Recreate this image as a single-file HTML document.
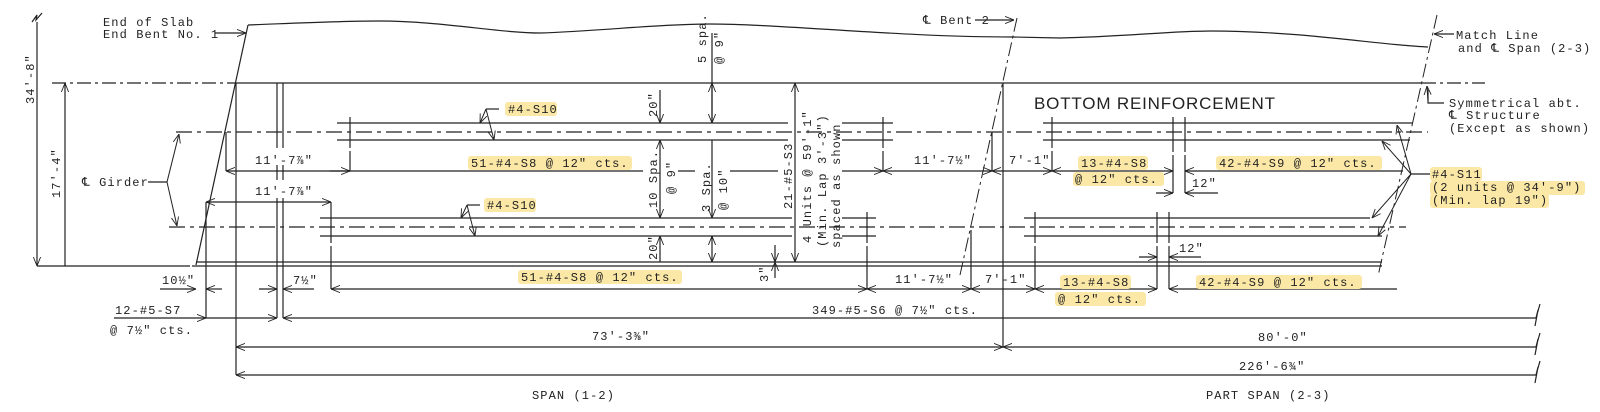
<!DOCTYPE html>
<html><head><meta charset="utf-8"><style>
html,body{margin:0;padding:0;background:#fff}
svg{display:block}
text{font-family:"Liberation Mono","DejaVu Sans Mono",monospace;font-size:12px;letter-spacing:1.1px;fill:#222}
.hl{fill:#fbe8a6}
</style></head><body>
<svg width="1600" height="412" viewBox="0 0 1600 412" xmlns="http://www.w3.org/2000/svg">
<defs>
<marker id="a" viewBox="0 0 10 10" refX="10" refY="5" markerWidth="9" markerHeight="9" orient="auto-start-reverse" markerUnits="userSpaceOnUse">
<path d="M0,1 L10,5 L0,9" fill="none" stroke="#222" stroke-width="1"/></marker>
</defs>
<g stroke="#222" stroke-width="1.2" fill="none">
<!-- slab outline -->
<path d="M248,25 C300,23 340,21 379,21 C440,21 500,33 540,33 C600,31 660,24 709,24 C780,24 900,37 1012,37 L1060,38 C1120,37 1170,31 1211,31 C1300,31 1380,45 1428,47"/>
<line x1="248" y1="25" x2="196" y2="265"/>
<line x1="236" y1="83" x2="1422" y2="83"/>
<line x1="52" y1="83" x2="236" y2="83" stroke-dasharray="14 4 3 4"/>
<line x1="1422" y1="83" x2="1485" y2="83" stroke-dasharray="14 4 3 4"/>
<!-- girder CLs -->
<line x1="176" y1="132" x2="1428" y2="132" stroke-dasharray="16 5 4 5"/>
<line x1="169" y1="227" x2="1406" y2="227" stroke-dasharray="16 5 4 5"/>
<!-- upper bars -->
<path d="M337,123H788M337,140H788M842,123H893M842,140H893M1043,123H1413M1043,140H1410"/>
<!-- lower bars -->
<path d="M320,218H792M320,236H792M842,218H876M842,236H876M1024,218H1370M1024,236H1382"/>
<!-- bottom -->
<path d="M196,262H1382M192,266H1382M37,266H190"/>
<!-- left dims -->
<line x1="37" y1="22" x2="37" y2="266" marker-end="url(#a)"/>
<path d="M32,22 L37,15 L36,20 L42,13"/>
<line x1="65" y1="266" x2="65" y2="83" marker-end="url(#a)"/>
<!-- verticals -->
<line x1="236" y1="83" x2="236" y2="375"/>
<path d="M277,83V148M283,83V148M277,165V180M283,165V180M277,198V318M283,198V318"/>
<line x1="206" y1="202" x2="206" y2="318"/>
<line x1="226" y1="132" x2="226" y2="171"/>
<line x1="1003" y1="83" x2="1003" y2="347"/>
<line x1="992" y1="132" x2="992" y2="171"/>
<line x1="971" y1="230" x2="971" y2="289"/>
<!-- ticks upper -->
<path d="M350,117V148M350,151V171M883,117V148M883,151V171M1052,117V148M1052,151V171M1173,117V152M1173,155V193M1185,117V152M1185,155V193"/>
<!-- ticks lower -->
<path d="M331,202V213M331,213V243M331,246V289M867,212V243M867,246V289M1035,212V243M1035,246V289M1157,212V243M1157,246V289M1169,212V243M1169,246V289"/>
<!-- upper dim line -->
<line x1="226" y1="171" x2="643" y2="171" marker-start="url(#a)"/>
<line x1="350" y1="171" x2="330" y2="171" marker-start="url(#a)"/>
<path d="M678,171H695M730,171H778"/>
<line x1="842" y1="171" x2="883" y2="171" marker-end="url(#a)"/>
<line x1="883" y1="171" x2="992" y2="171" marker-start="url(#a)" marker-end="url(#a)"/>
<line x1="992" y1="171" x2="1052" y2="171" marker-start="url(#a)" marker-end="url(#a)"/>
<line x1="1052" y1="171" x2="1173" y2="171" marker-start="url(#a)" marker-end="url(#a)"/>
<line x1="1185" y1="171" x2="1403" y2="171" marker-start="url(#a)"/>
<line x1="1156" y1="193" x2="1173" y2="193" marker-end="url(#a)"/>
<line x1="1218" y1="193" x2="1185" y2="193" marker-end="url(#a)"/>
<!-- second upper dim -->
<line x1="206" y1="202" x2="331" y2="202" marker-start="url(#a)" marker-end="url(#a)"/>
<!-- lower dim y=289 -->
<line x1="160" y1="289" x2="196" y2="289" marker-end="url(#a)"/>
<line x1="222" y1="289" x2="206" y2="289" marker-end="url(#a)"/>
<line x1="259" y1="289" x2="277" y2="289" marker-end="url(#a)"/>
<line x1="314" y1="289" x2="283" y2="289" marker-end="url(#a)"/>
<line x1="331" y1="289" x2="867" y2="289" marker-start="url(#a)" marker-end="url(#a)"/>
<line x1="867" y1="289" x2="971" y2="289" marker-start="url(#a)" marker-end="url(#a)"/>
<line x1="971" y1="289" x2="1035" y2="289" marker-start="url(#a)" marker-end="url(#a)"/>
<line x1="1035" y1="289" x2="1157" y2="289" marker-start="url(#a)" marker-end="url(#a)"/>
<line x1="1169" y1="289" x2="1397" y2="289" marker-start="url(#a)"/>
<line x1="1139" y1="257" x2="1157" y2="257" marker-end="url(#a)"/>
<line x1="1201" y1="257" x2="1169" y2="257" marker-end="url(#a)"/>
<!-- rows -->
<line x1="114" y1="318" x2="206" y2="318" marker-end="url(#a)"/>
<line x1="206" y1="318" x2="277" y2="318" marker-end="url(#a)"/>
<line x1="1537" y1="318" x2="283" y2="318" marker-end="url(#a)"/>
<line x1="236" y1="347" x2="1003" y2="347" marker-start="url(#a)" marker-end="url(#a)"/>
<line x1="1003" y1="347" x2="1537" y2="347" marker-start="url(#a)"/>
<line x1="1537" y1="375" x2="236" y2="375" marker-end="url(#a)"/>
<path d="M1535,326 L1538,310 L1536,318 L1540,304 M1535,355 L1538,339 L1536,347 L1540,333 M1535,383 L1538,367 L1536,375 L1540,361"/>
<!-- center vertical dims -->
<line x1="712" y1="33" x2="712" y2="83"/>
<line x1="712" y1="123" x2="712" y2="83" marker-end="url(#a)"/>
<line x1="712" y1="83" x2="712" y2="123" marker-end="url(#a)"/>
<line x1="660" y1="90" x2="660" y2="123" marker-end="url(#a)"/>
<line x1="660" y1="140" x2="660" y2="218" marker-start="url(#a)" marker-end="url(#a)"/>
<line x1="660" y1="262" x2="660" y2="236" marker-end="url(#a)"/>
<line x1="712" y1="140" x2="712" y2="218" marker-end="url(#a)"/>
<line x1="712" y1="236" x2="712" y2="262" marker-start="url(#a)" marker-end="url(#a)"/>
<line x1="795" y1="83" x2="795" y2="262" marker-start="url(#a)" marker-end="url(#a)"/>
<line x1="775" y1="245" x2="775" y2="262" marker-end="url(#a)"/>
<line x1="775" y1="278" x2="775" y2="262" marker-end="url(#a)"/>
<!-- slanted CL lines -->
<line x1="1017" y1="18" x2="960" y2="275" stroke-dasharray="14 4 3 4" stroke-width="1"/>
<line x1="1437" y1="15" x2="1378" y2="276" stroke-dasharray="14 4 3 4" stroke-width="1"/>
<!-- leaders -->
<line x1="148" y1="182" x2="167" y2="182"/>
<line x1="167" y1="182" x2="179" y2="134" marker-end="url(#a)" stroke-width="1"/>
<line x1="167" y1="182" x2="177" y2="226" marker-end="url(#a)" stroke-width="1"/>
<line x1="215" y1="33" x2="246" y2="33" marker-end="url(#a)"/>
<line x1="975" y1="20" x2="1014" y2="20" marker-end="url(#a)"/>
<line x1="1454" y1="34" x2="1434" y2="34" marker-end="url(#a)"/>
<path d="M1444,103H1428V90"/><line x1="1428" y1="100" x2="1427" y2="86" marker-end="url(#a)"/>
<path d="M499,109H486"/>
<line x1="486" y1="109" x2="480" y2="123" marker-end="url(#a)" stroke-width="1"/>
<line x1="486" y1="109" x2="494" y2="140" marker-end="url(#a)" stroke-width="1"/>
<path d="M480,205H467"/>
<line x1="467" y1="205" x2="461" y2="218" marker-end="url(#a)" stroke-width="1"/>
<line x1="467" y1="205" x2="475" y2="236" marker-end="url(#a)" stroke-width="1"/>
<path d="M1430,174H1411"/>
<line x1="1411" y1="174" x2="1397" y2="125" marker-end="url(#a)" stroke-width="1"/>
<line x1="1411" y1="174" x2="1382" y2="141" marker-end="url(#a)" stroke-width="1"/>
<line x1="1411" y1="174" x2="1372" y2="218" marker-end="url(#a)" stroke-width="1"/>
<line x1="1411" y1="174" x2="1378" y2="236" marker-end="url(#a)" stroke-width="1"/>
</g>
<!-- highlights -->
<rect class="hl" x="505" y="102" width="52" height="14" rx="3"/>
<rect class="hl" x="484" y="198" width="52" height="14" rx="3"/>
<rect class="hl" x="468" y="156" width="164" height="14" rx="3"/>
<rect class="hl" x="518" y="270" width="164" height="14" rx="3"/>
<rect class="hl" x="1078" y="156" width="70" height="14" rx="3"/>
<rect class="hl" x="1073" y="172" width="91" height="14" rx="3"/>
<rect class="hl" x="1216" y="156" width="166" height="14" rx="3"/>
<rect class="hl" x="1060" y="275" width="71" height="14" rx="3"/>
<rect class="hl" x="1055" y="292" width="91" height="14" rx="3"/>
<rect class="hl" x="1196" y="275" width="166" height="14" rx="3"/>
<rect class="hl" x="1430" y="167" width="52" height="14" rx="3"/>
<rect class="hl" x="1430" y="181" width="155" height="14" rx="3"/>
<rect class="hl" x="1430" y="194" width="119" height="14" rx="3"/>
<!-- texts -->
<text x="103" y="26">End of Slab</text>
<text x="103" y="38">End Bent No. 1</text>
<text x="923" y="24">℄ Bent 2</text>
<text x="1456" y="39">Match Line</text>
<text x="1458" y="52">and ℄ Span (2-3)</text>
<text x="1449" y="107">Symmetrical abt.</text>
<text x="1449" y="119">℄ Structure</text>
<text x="1449" y="132">(Except as shown)</text>
<text x="1034" y="109" style="font-family:'Liberation Sans',sans-serif;font-size:17px;letter-spacing:1px" textLength="242">BOTTOM REINFORCEMENT</text>
<text x="82" y="186">℄ Girder</text>
<text x="508" y="113">#4-S10</text>
<text x="487" y="209">#4-S10</text>
<text x="471" y="167">51-#4-S8 @ 12" cts.</text>
<text x="521" y="281">51-#4-S8 @ 12" cts.</text>
<text x="255" y="164">11'-7⅞"</text>
<text x="255" y="195">11'-7⅞"</text>
<text x="914" y="164">11'-7½"</text>
<text x="1009" y="164">7'-1"</text>
<text x="895" y="283">11'-7½"</text>
<text x="985" y="283">7'-1"</text>
<text x="1081" y="167">13-#4-S8</text>
<text x="1075" y="183">@ 12" cts.</text>
<text x="1219" y="167">42-#4-S9 @ 12" cts.</text>
<text x="1063" y="286">13-#4-S8</text>
<text x="1058" y="303">@ 12" cts.</text>
<text x="1199" y="286">42-#4-S9 @ 12" cts.</text>
<text x="1192" y="187">12"</text>
<text x="1179" y="252">12"</text>
<text x="1432" y="178">#4-S11</text>
<text x="1432" y="191">(2 units @ 34'-9")</text>
<text x="1432" y="204">(Min. lap 19")</text>
<text x="162" y="284">10½"</text>
<text x="293" y="284">7½"</text>
<text x="115" y="314">12-#5-S7</text>
<text x="110" y="334">@ 7½" cts.</text>
<text x="812" y="314">349-#5-S6 @ 7½" cts.</text>
<text x="592" y="340">73'-3⅜"</text>
<text x="1258" y="341">80'-0"</text>
<text x="1239" y="370">226'-6¾"</text>
<text x="532" y="399">SPAN (1-2)</text>
<text x="1206" y="399">PART SPAN (2-3)</text>
<!-- rotated -->
<text transform="translate(34,104) rotate(-90)">34'-8"</text>
<text transform="translate(60,198) rotate(-90)">17'-4"</text>
<text transform="translate(706,63) rotate(-90)">5 spa.</text>
<text transform="translate(723,64) rotate(-90)">@ 9"</text>
<text transform="translate(657,117) rotate(-90)">20"</text>
<text transform="translate(657,208) rotate(-90)">10 Spa.</text>
<text transform="translate(675,194) rotate(-90)">@ 9"</text>
<text transform="translate(710,212) rotate(-90)">3 Spa.</text>
<text transform="translate(727,210) rotate(-90)">@ 10"</text>
<text transform="translate(657,260) rotate(-90)">20"</text>
<text transform="translate(768,282) rotate(-90)">3"</text>
<text transform="translate(792,209) rotate(-90)">21-#5-S3</text>
<text transform="translate(811,243) rotate(-90)">4 Units @ 59'-1"</text>
<text transform="translate(826,247) rotate(-90)">(Min. Lap 3'-3")</text>
<text transform="translate(840,248) rotate(-90)">spaced as shown</text>
</svg>
</body></html>
